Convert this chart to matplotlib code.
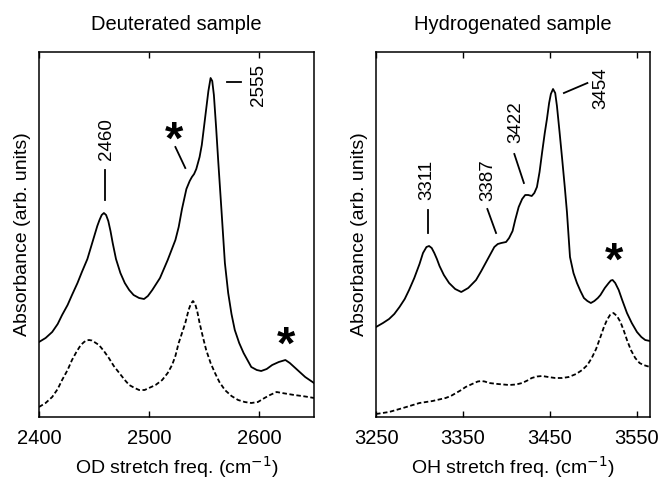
import matplotlib

matplotlib.use("Agg")
import matplotlib.pyplot as plt

plt.rcParams["font.family"] = ["Liberation Sans", "DejaVu Sans"]

# OD stretch region (deuterated sample), absorbance in arb. units
OD_SOLID_X = [2400, 2406, 2412, 2417, 2421, 2426, 2430, 2435, 2439, 2444, 2447, 2450,
              2453, 2455, 2457, 2459, 2461, 2463, 2465, 2467, 2470, 2474, 2478, 2482,
              2486, 2491, 2495.5, 2499, 2503, 2510, 2517, 2524, 2527, 2530, 2534, 2537,
              2539, 2541, 2543, 2546, 2548, 2550, 2552, 2554, 2556, 2557.5, 2559, 2561,
              2563, 2566, 2569, 2572, 2575, 2578, 2582, 2586, 2593, 2598, 2602, 2607,
              2612, 2618, 2624, 2628, 2633, 2642, 2650]
OD_SOLID_Y = [75, 79, 85, 93, 102, 112, 122, 134, 145, 158, 169, 180,
              191, 197, 202, 204, 202, 196, 186, 174, 158, 144, 134, 127,
              122, 119, 118, 121, 127, 139, 157, 177, 190, 208, 228, 236,
              240, 243, 248, 260, 272, 290, 308, 326, 339, 336, 322, 290,
              255, 205, 154, 124, 103, 87, 74, 64, 50, 47, 46, 48,
              52, 55, 57, 54, 49, 40, 34]
OD_DASH_X = [2400, 2406, 2412, 2417, 2421, 2426, 2430, 2434, 2438, 2441, 2443,
             2445.5, 2448, 2451, 2454.5, 2459, 2463.5, 2468, 2473, 2478, 2482, 2487,
             2491, 2496, 2500, 2506, 2512, 2517, 2521, 2524, 2527, 2530, 2533, 2536,
             2538, 2540, 2542, 2544, 2546, 2549, 2552, 2556, 2560, 2564, 2569, 2575,
             2581, 2587, 2593, 2599, 2605, 2610, 2616, 2621, 2626.5, 2632, 2639, 2645,
             2650]
OD_DASH_Y = [10, 14, 20, 28, 37, 47, 57, 65, 72, 75, 76.5,
             77, 76.5, 74.5, 72, 66, 59, 51, 44, 37, 32, 29,
             27, 27, 29, 32, 37, 44, 52, 61, 74, 84, 94, 107,
             113, 116, 113, 105, 94, 80, 67, 54, 44, 35, 27, 21,
             17, 15, 14, 15, 19, 22, 25, 24, 23, 22, 21, 20,
             19]

# OH stretch region (hydrogenated sample)
OH_SOLID_X = [3250, 3258, 3265, 3271, 3277, 3283, 3288, 3294, 3300, 3304, 3308, 3311,
              3314, 3317, 3320, 3323, 3328, 3334, 3341, 3348, 3356, 3365, 3371, 3376,
              3381, 3386, 3390, 3394, 3399.5, 3403, 3407, 3410, 3414, 3418, 3421.5,
              3425, 3429, 3432, 3435, 3438, 3441, 3444, 3446.5, 3449, 3451, 3453.5,
              3456, 3458, 3461, 3464, 3467, 3469.5, 3473, 3477, 3481, 3485, 3489, 3493,
              3497, 3501, 3505, 3508, 3513, 3517.5, 3520, 3522, 3525, 3529, 3533,
              3538.5, 3544, 3550, 3555, 3559.5, 3565]
OH_SOLID_Y = [90, 94, 98, 103, 110, 118, 127, 139, 153, 164, 170, 171,
              169, 164, 158, 151, 142, 134, 128, 125, 129, 137, 146, 154,
              162, 170, 173, 174, 175, 179, 186, 197, 210, 218, 222,
              222, 221, 224, 230, 245, 265, 284, 298, 314, 323, 328,
              324, 311, 285, 258, 230, 205, 160, 144, 134, 126, 119, 116,
              114, 116, 119, 122, 129, 134, 136.5, 137, 134, 127, 117,
              104, 94, 85, 80, 77, 76]
OH_DASH_X = [3250, 3265, 3281, 3300, 3315, 3330, 3336, 3342, 3348, 3353, 3358, 3363,
             3367, 3371, 3375, 3380, 3390, 3403, 3411, 3418, 3424, 3429, 3435, 3441,
             3448, 3456, 3464, 3471.5, 3480, 3487, 3493, 3498, 3503, 3508, 3512,
             3515.5, 3519, 3523, 3527, 3531, 3535, 3538.5, 3543, 3548, 3553, 3557.5,
             3565]
OH_DASH_Y = [3, 5, 9, 14, 16, 19, 21, 24, 27, 30, 32, 34,
             35.5, 36, 35.5, 34, 33, 32, 32.5, 34, 36.5, 39, 40.5, 41,
             40, 39, 39, 40, 43, 47, 52, 59, 68, 80, 90,
             97, 102, 104, 101, 95, 86, 77, 67, 59, 54, 52,
             50]

# peak labels: (text, text x, text y, line x0, line y0, line x1, line y1)
OD_LABELS = [("2460", 2461, 278, 2460, 217, 2460, 247),
             ("2555", 2600, 332, 2570.5, 335, 2584, 335)]
OH_LABELS = [("3311", 3309, 237, 3310, 184, 3310, 207),
             ("3387", 3378.5, 237, 3388, 184, 3378, 208),
             ("3422", 3411, 295, 3420, 234, 3409, 263),
             ("3454", 3508.5, 329, 3466, 324, 3493, 334)]
OD_STARS = [(2523, 275), (2624.5, 70)]
OD_STAR_LINES = [(2524, 270, 2533, 249)]
OH_STARS = [(3524, 154)]

LINE_KW = dict(color="black", lw=1.3, solid_joinstyle="round")
DASH_KW = dict(color="black", lw=1.3, ls=(0, (2.5, 1.4)))


def decorate(ax, labels, stars, star_lines, xticks, xlim, xlabel, title):
    for txt, tx, ty, x0, y0, x1, y1 in labels:
        ax.plot([x0, x1], [y0, y1], color="black", lw=1.3)
        ax.text(tx, ty, txt, rotation=90, ha="center", va="center", fontsize=13.5)
    for x0, y0, x1, y1 in star_lines:
        ax.plot([x0, x1], [y0, y1], color="black", lw=1.3)
    for sx, sy in stars:
        ax.text(sx, sy, "*", ha="center", va="center", fontsize=34,
                fontweight="bold")
    ax.set_xlim(*xlim)
    ax.set_ylim(0, 365)
    ax.set_xticks(xticks)
    ax.set_yticks([])
    ax.tick_params(axis="x", direction="in", top=True, length=4, width=1,
                   labelsize=14.5, pad=9)
    ax.set_xlabel(xlabel, fontsize=14, labelpad=4)
    ax.set_ylabel("Absorbance (arb. units)", fontsize=14, labelpad=6)
    ax.set_title(title, fontsize=14.5, pad=16)
    for sp in ax.spines.values():
        sp.set_linewidth(1.1)


fig = plt.figure(figsize=(6.62, 4.8), dpi=100)
ax1 = fig.add_axes([0.0589, 0.13125, 0.4154, 0.7604])
ax2 = fig.add_axes([0.568, 0.13125, 0.4139, 0.7604])

ax1.plot(OD_SOLID_X, OD_SOLID_Y, **LINE_KW)
ax1.plot(OD_DASH_X, OD_DASH_Y, **DASH_KW)
decorate(ax1, OD_LABELS, OD_STARS, OD_STAR_LINES, [2400, 2500, 2600], (2400, 2650),
         "OD stretch freq. (cm$^{-1}$)", "Deuterated sample")

ax2.plot(OH_SOLID_X, OH_SOLID_Y, **LINE_KW)
ax2.plot(OH_DASH_X, OH_DASH_Y, **DASH_KW)
decorate(ax2, OH_LABELS, OH_STARS, [], [3250, 3350, 3450, 3550], (3250, 3565),
         "OH stretch freq. (cm$^{-1}$)", "Hydrogenated sample")

fig.savefig("out.png", dpi=100)
